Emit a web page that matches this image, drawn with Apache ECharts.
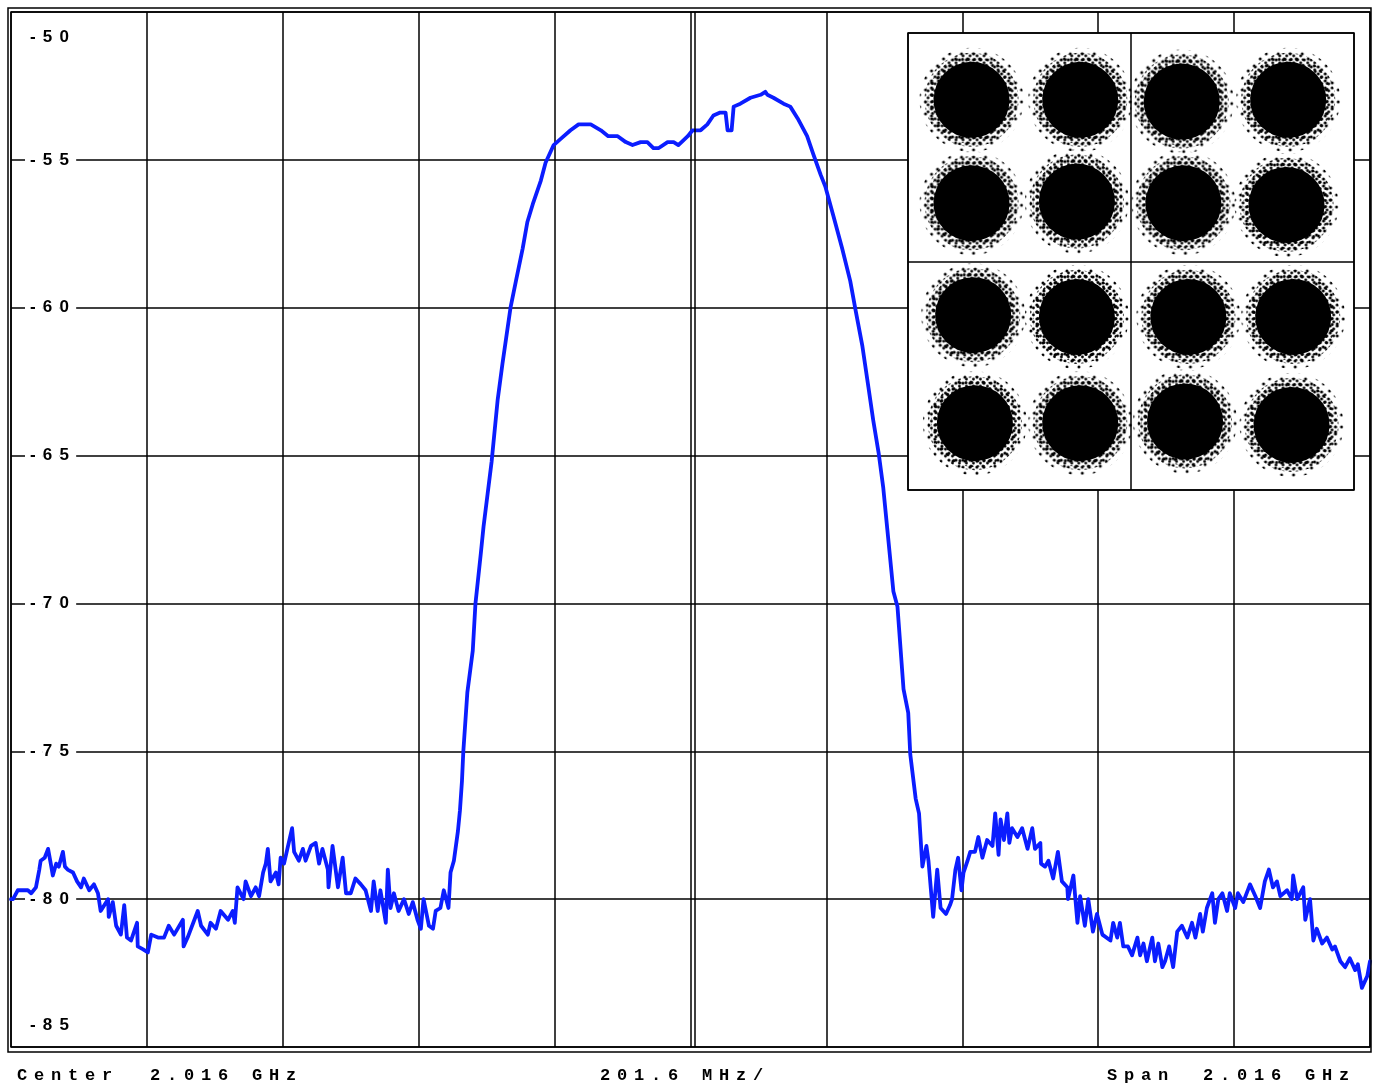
<!DOCTYPE html>
<html>
<head>
<meta charset="utf-8">
<script src="https://cdn.jsdelivr.net/npm/echarts@6.0.0/dist/echarts.min.js"></script>
<style>
html,body{margin:0;padding:0;background:#fff;}
#chart{width:1373px;height:1088px;}
</style>
</head>
<body>
<div id="chart"></div>
<script>
// ---- Spectrum trace (frequency in MHz, level in dBm) ----
const freqMHz = [
  1008,1011,1018,1026,1033,1038,1045,1050,1052,1058,
  1063,1067,1070,1075,1079,1085,1088,1092,1100,1106,
  1112,1116,1124,1131,1137,1141,1152,1153,1159,1164,
  1171,1176,1180,1186,1195,1196,1204,1211,1216,1226,
  1235,1242,1250,1263,1264,1270,1285,1290,1300,1304,
  1312,1319,1330,1337,1340,1344,1353,1356,1364,1371,
  1376,1382,1386,1389,1393,1401,1405,1408,1413,1419,
  1425,1428,1435,1441,1445,1453,1460,1465,1470,1478,
  1479,1485,1493,1500,1505,1512,1519,1527,1534,1542,
  1546,1552,1556,1564,1567,1571,1576,1583,1591,1598,
  1604,1611,1616,1620,1628,1634,1638,1645,1650,1657,
  1660,1665,1671,1674,1677,1679,1685,1693,1697,1705,
  1709,1715,1721,1730,1737,1749,1757,1767,1774,1782,
  1794,1801,1813,1823,1838,1850,1868,1883,1894,1908,
  1920,1930,1942,1952,1961,1969,1982,1991,1998,2012,
  2019,2031,2041,2050,2060,2068,2071,2077,2080,2090,
  2105,2120,2127,2130,2139,2154,2164,2175,2189,2198,
  2209,2216,2228,2241,2253,2261,2271,2280,2287,2295,
  2302,2308,2317,2323,2332,2339,2342,2350,2355,2360,
  2366,2369,2376,2382,2387,2395,2401,2404,2409,2413,
  2418,2421,2427,2431,2438,2443,2449,2456,2464,2468,
  2473,2476,2481,2486,2489,2493,2501,2508,2516,2523,
  2527,2535,2536,2542,2547,2554,2561,2567,2575,2576,
  2584,2590,2594,2601,2606,2613,2619,2627,2639,2643,
  2649,2653,2658,2665,2671,2679,2683,2688,2693,2701,
  2705,2710,2716,2720,2726,2732,2738,2745,2753,2760,
  2765,2772,2776,2782,2790,2794,2799,2805,2812,2816,
  2824,2828,2836,2846,2854,2861,2868,2874,2880,2886,
  2891,2901,2908,2910,2916,2925,2928,2935,2940,2945,
  2953,2960,2968,2972,2980,2987,2994,3002,3006,3012,
  3020,3024
];
const levelDbm = [
  -80.0,-80.0,-79.7,-79.7,-79.7,-79.8,-79.6,-79.0,-78.7,-78.6,
  -78.3,-78.8,-79.2,-78.8,-78.9,-78.4,-78.9,-79.0,-79.1,-79.4,
  -79.6,-79.3,-79.7,-79.5,-79.8,-80.4,-80.0,-80.6,-80.1,-80.9,
  -81.2,-80.2,-81.3,-81.4,-80.8,-81.6,-81.7,-81.8,-81.2,-81.3,
  -81.3,-80.9,-81.2,-80.7,-81.6,-81.3,-80.4,-80.9,-81.2,-80.8,
  -81.0,-80.4,-80.7,-80.4,-80.8,-79.6,-80.0,-79.4,-79.9,-79.6,
  -79.9,-79.1,-78.8,-78.3,-79.4,-79.1,-79.5,-78.6,-78.8,-78.2,
  -77.6,-78.4,-78.7,-78.3,-78.7,-78.2,-78.1,-78.8,-78.3,-79.0,
  -79.6,-78.2,-79.6,-78.6,-79.8,-79.8,-79.3,-79.5,-79.7,-80.4,
  -79.4,-80.4,-79.7,-80.8,-79.0,-80.3,-79.8,-80.4,-80.0,-80.5,
  -80.1,-80.7,-81.0,-80.0,-80.9,-81.0,-80.4,-80.3,-79.7,-80.3,
  -79.1,-78.7,-77.7,-77.0,-76.0,-75.0,-73.0,-71.6,-70.0,-68.3,
  -67.4,-66.3,-65.2,-63.1,-61.9,-60.0,-59.1,-58.0,-57.1,-56.5,
  -55.7,-55.1,-54.5,-54.3,-54.0,-53.8,-53.8,-54.0,-54.2,-54.2,
  -54.4,-54.5,-54.4,-54.4,-54.6,-54.6,-54.4,-54.4,-54.5,-54.2,
  -54.0,-54.0,-53.8,-53.5,-53.4,-53.4,-54.0,-54.0,-53.2,-53.1,
  -52.9,-52.8,-52.7,-52.8,-52.9,-53.1,-53.2,-53.6,-54.2,-54.8,
  -55.5,-55.9,-56.9,-58.0,-59.1,-60.1,-61.3,-62.7,-63.8,-64.9,
  -66.1,-67.5,-69.6,-70.1,-72.9,-73.7,-75.1,-76.6,-77.1,-78.9,
  -78.2,-78.7,-80.6,-79.0,-80.3,-80.5,-80.2,-80.0,-79.0,-78.6,
  -79.7,-79.1,-78.7,-78.4,-78.4,-77.9,-78.6,-78.0,-78.2,-77.1,
  -78.5,-77.3,-78.0,-77.1,-78.1,-77.6,-77.9,-77.6,-78.3,-77.6,
  -78.3,-78.1,-78.8,-78.9,-78.7,-79.3,-78.4,-79.4,-79.6,-80.0,
  -79.2,-80.8,-79.9,-80.9,-80.0,-81.1,-80.5,-81.2,-81.4,-80.8,
  -81.3,-80.8,-81.6,-81.6,-81.9,-81.3,-81.9,-81.5,-82.1,-81.3,
  -82.1,-81.5,-82.3,-82.1,-81.6,-82.3,-81.1,-80.9,-81.3,-80.8,
  -81.3,-80.5,-81.1,-80.3,-79.8,-80.8,-80.0,-79.8,-80.4,-79.8,
  -80.3,-79.8,-80.1,-79.5,-79.9,-80.3,-79.4,-79.0,-79.6,-79.4,
  -79.9,-79.7,-80.0,-79.2,-80.0,-79.6,-80.7,-80.0,-81.4,-81.0,
  -81.5,-81.3,-81.7,-81.6,-82.1,-82.3,-82.0,-82.4,-82.2,-83.0,
  -82.6,-82.1
];

// ---- Axis settings ----
const yTickLabels = ['-85','-80','-75','-70','-65','-60','-55','-50'];
const yTickValues = [-85,-80,-75,-70,-65,-60,-55,-50];
const freqStartMHz = 1008, freqStopMHz = 3024, freqPerDivMHz = 201.6;
const centerMarkerMHz = [2022];
const footerWords = ['Center', '2.016 GHz', '201.6 MHz/', 'Span', '2.016 GHz'];

// ---- Constellation (16-QAM) cluster centres, I / Q ----
const clusterI = [-2.86,-0.91, 0.91, 2.82, -2.86,-0.97, 0.94, 2.79, -2.83,-0.97, 1.03, 2.91, -2.80,-0.91, 0.97, 2.88];
const clusterQ = [ 2.83, 2.83, 2.80, 2.83,  1.02, 1.05, 1.02, 0.99, -0.94,-0.97,-0.97,-0.97, -2.83,-2.83,-2.80,-2.86];

const trace = freqMHz.map((f, i) => [f, levelDbm[i]]);
const clusters = clusterI.map((v, i) => [v, clusterQ[i]]);

// wraps each character in its own rich-text token so it can be letter-spaced
function spaced(str, first, rest) {
  return str.split('').map((ch, i) => '{' + (i === 0 ? first : rest) + '|' + ch + '}').join('');
}

// small repeating dot textures used to give the constellation clusters a speckled rim
function dotTile(size, dots) {
  const c = document.createElement('canvas');
  c.width = size; c.height = size;
  const g = c.getContext('2d');
  g.fillStyle = '#000';
  dots.forEach(function (d) { g.beginPath(); g.arc(d[0], d[1], d[2], 0, Math.PI * 2); g.fill(); });
  return c;
}
// symbols are drawn at unit size and scaled, so the texture is scaled back to screen pixels
function speckle(tile, symbolSize) {
  return {image: tile, repeat: 'repeat', scaleX: 2 / symbolSize, scaleY: 2 / symbolSize};
}
const tileSparse = dotTile(12, [[2, 2, 1.5], [8, 7, 1.5]]);
const tileMid = dotTile(7, [[2, 2, 1.6], [5.5, 5, 1.4]]);
const tileMid2 = dotTile(6, [[3, 1.5, 1.5]]);
const ringOuter = 104, ringMid = 94, ringMid2 = 88, coreSize = 76;

const dom = document.getElementById('chart');
const chart = echarts.init(dom, null, {renderer: 'canvas'});

const sans = 'Liberation Sans';
const gapY = 7.2, gapF = 6.8;
const yl = {fontFamily: sans, fontWeight: 700, fontSize: 17, color: '#000'};
const mono = {fontFamily: 'Liberation Mono', fontWeight: 700, fontSize: 17, color: '#000', padding: [0, gapF, 0, 0]};
const footRich = {c: mono};

const option = {
  animation: false,
  backgroundColor: '#fff',
  grid: [
    {left: 11, right: 3, top: 12, bottom: 41, show: true, borderColor: '#000', borderWidth: 1.5, z: 0},
    {left: 908, top: 33, width: 446, height: 457, show: true, backgroundColor: '#fff', borderColor: '#000', borderWidth: 1.5, z: 10}
  ],
  xAxis: [
    {type: 'value', gridIndex: 0, min: freqStartMHz, max: freqStopMHz, interval: freqPerDivMHz,
     axisLine: {show: false}, axisTick: {show: false}, axisLabel: {show: false},
     splitLine: {show: true, lineStyle: {color: '#000', width: 1.5}}},
    {type: 'value', gridIndex: 1, min: -4, max: 4, interval: 4, z: 10,
     axisLine: {show: false}, axisTick: {show: false}, axisLabel: {show: false},
     splitLine: {show: true, lineStyle: {color: '#000', width: 1.5}}}
  ],
  yAxis: [
    {type: 'value', gridIndex: 0, min: -85, max: -50, interval: 5,
     axisLine: {show: false}, axisTick: {show: false},
     splitLine: {show: true, lineStyle: {color: '#000', width: 1.5}},
     axisLabel: {
       inside: true, margin: 14, showMinLabel: true, showMaxLabel: true,
       formatter: function (v) {
         const idx = yTickValues.indexOf(v);
         const s = idx >= 0 ? yTickLabels[idx] : String(v);
         if (v === -50) return spaced(s, 't0', 't');
         if (v === -85) return spaced(s, 'b0', 'b');
         return spaced(s, 'n0', 'n');
       },
       rich: {
         n0: Object.assign({}, yl, {backgroundColor: '#fff', padding: [3, gapY, 3, 5]}),
         n: Object.assign({}, yl, {backgroundColor: '#fff', padding: [3, gapY, 3, 0]}),
         t0: Object.assign({}, yl, {padding: [50, gapY, 0, 5]}),
         t: Object.assign({}, yl, {padding: [50, gapY, 0, 0]}),
         b0: Object.assign({}, yl, {padding: [0, gapY, 44, 5]}),
         b: Object.assign({}, yl, {padding: [0, gapY, 44, 0]})
       }
     }},
    {type: 'value', gridIndex: 1, min: -4, max: 4, interval: 4, z: 10,
     axisLine: {show: false}, axisTick: {show: false}, axisLabel: {show: false},
     splitLine: {show: true, lineStyle: {color: '#000', width: 1.5}}}
  ],
  series: [
    {
      type: 'line', xAxisIndex: 0, yAxisIndex: 0, data: [], z: 1, silent: true,
      markLine: {symbol: 'none', silent: true, label: {show: false},
        lineStyle: {color: '#000', width: 1.5, type: 'solid'},
        data: centerMarkerMHz.map(v => ({xAxis: v}))}
    },
    {
      type: 'line', xAxisIndex: 0, yAxisIndex: 0, data: trace, z: 3,
      showSymbol: false, symbol: 'none',
      lineStyle: {color: '#0b1dff', width: 3.8, join: 'round', cap: 'round'}
    },
    {
      type: 'scatter', xAxisIndex: 1, yAxisIndex: 1, data: clusters, z: 12, silent: true,
      symbol: 'circle', symbolSize: ringOuter,
      itemStyle: {color: speckle(tileSparse, ringOuter), opacity: 1}
    },
    {
      type: 'scatter', xAxisIndex: 1, yAxisIndex: 1, data: clusters, z: 13, silent: true,
      symbol: 'circle', symbolSize: ringMid,
      itemStyle: {color: speckle(tileMid, ringMid), opacity: 1}
    },
    {
      type: 'scatter', xAxisIndex: 1, yAxisIndex: 1, data: clusters, z: 13, silent: true,
      symbol: 'circle', symbolSize: ringMid2,
      itemStyle: {color: speckle(tileMid2, ringMid2), opacity: 1}
    },
    {
      type: 'scatter', xAxisIndex: 1, yAxisIndex: 1, data: clusters, z: 14, silent: true,
      symbol: 'circle', symbolSize: coreSize,
      itemStyle: {color: '#000', opacity: 1}
    }
  ],
  graphic: [
    {type: 'rect', silent: true, z: 50, shape: {x: 8, y: 8, width: 1363, height: 1044},
     style: {fill: 'none', stroke: '#000', lineWidth: 1.5}},
    {type: 'text', silent: true, left: 17, top: 1067, style: {text: spaced(footerWords[0], 'c', 'c'), rich: footRich}},
    {type: 'text', silent: true, left: 150, top: 1067, style: {text: spaced(footerWords[1], 'c', 'c'), rich: footRich}},
    {type: 'text', silent: true, left: 600, top: 1067, style: {text: spaced(footerWords[2], 'c', 'c'), rich: footRich}},
    {type: 'text', silent: true, left: 1107, top: 1067, style: {text: spaced(footerWords[3], 'c', 'c'), rich: footRich}},
    {type: 'text', silent: true, left: 1203, top: 1067, style: {text: spaced(footerWords[4], 'c', 'c'), rich: footRich}}
  ]
};
chart.setOption(option);
</script>
</body>
</html>
